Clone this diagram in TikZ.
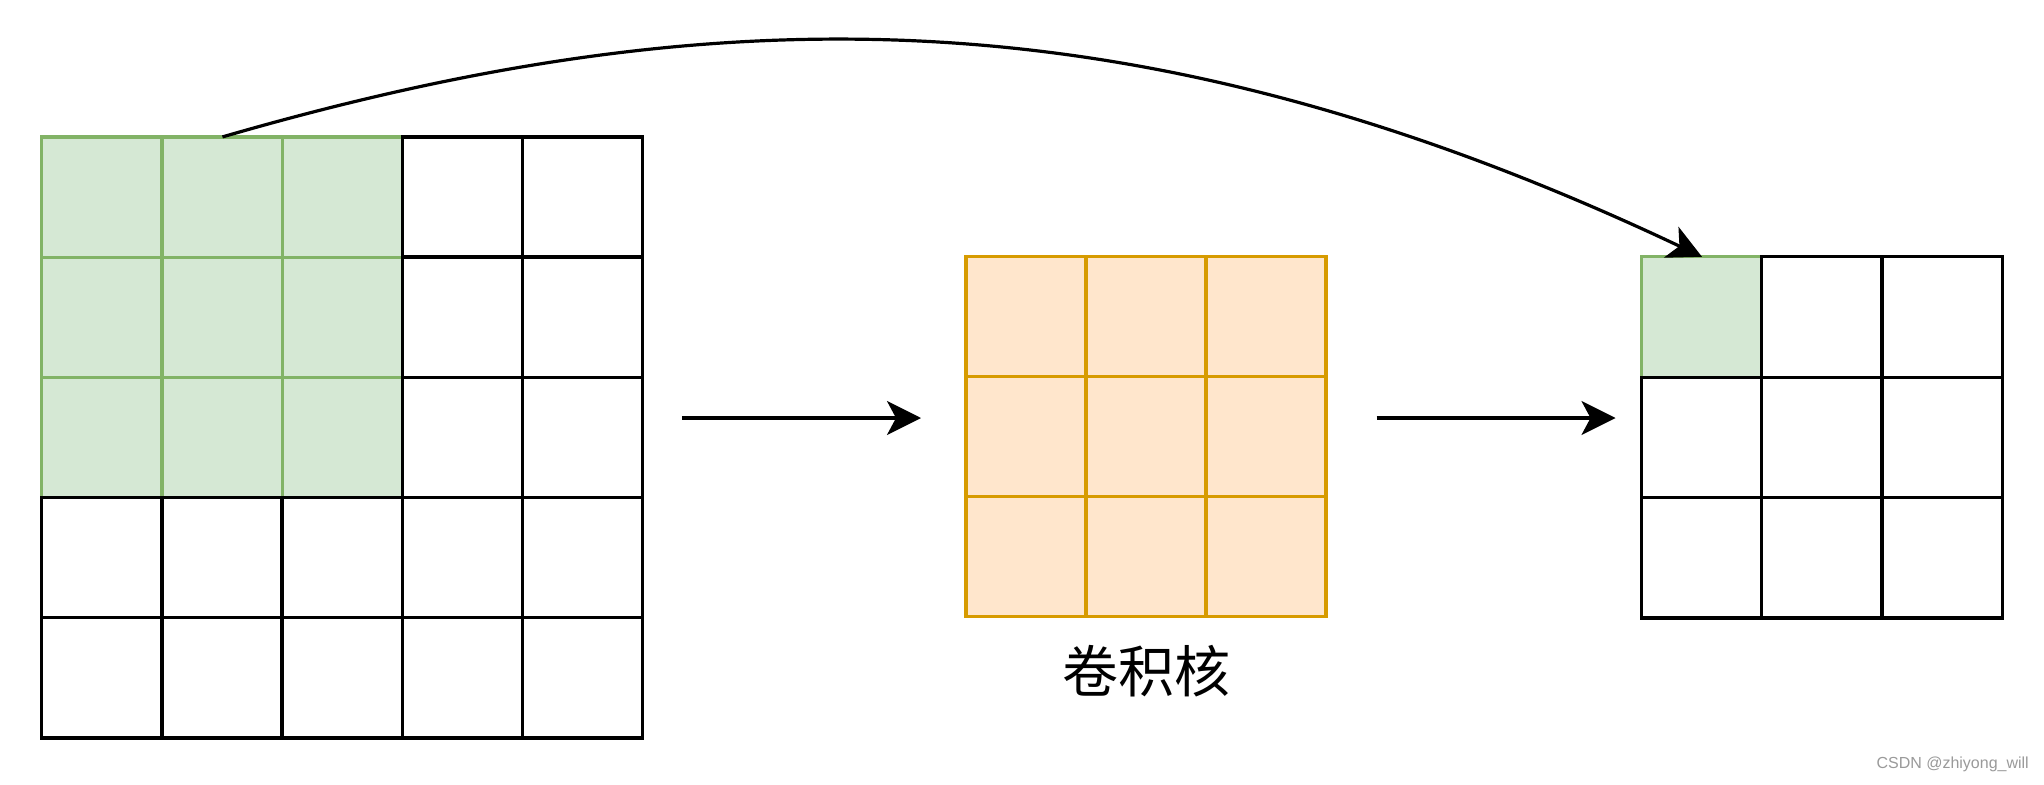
\documentclass[tikz,border=0pt]{standalone}
\usepackage{fontspec}
\setmainfont{Liberation Sans}
\newfontfamily\cjk{Noto Sans CJK SC}
\usetikzlibrary{arrows.meta}
\definecolor{gfill}{HTML}{D5E8D4}
\definecolor{gline}{HTML}{82B366}
\definecolor{ofill}{HTML}{FFE6CC}
\definecolor{oline}{HTML}{D79B00}
\definecolor{wm}{HTML}{9A9A9A}
\begin{document}
\begin{tikzpicture}[x=1pt,y=-1pt,
  gcell/.style={draw=gline,fill=gfill,line width=3.2pt},
  bcell/.style={draw=black,line width=3.3pt},
  ocell/.style={draw=oline,fill=ofill,line width=3.2pt},
  conn/.style={draw=black,line width=3.2pt,-{Stealth[length=34pt,width=34pt,inset=9pt]}}]
\useasboundingbox[fill=white] (0,0) rectangle (2044,784);
% input 5x5 grid
\foreach \i in {0,1,2} \foreach \j in {0,1,2}
  \draw[gcell] ({41.7+\i*120.2},{136.9+\j*120.2}) rectangle ++(120.2,120.2);
\foreach \i in {3,4} \foreach \j in {0,1,2}
  \draw[bcell] ({41.7+\i*120.2},{136.9+\j*120.2}) rectangle ++(120.2,120.2);
\foreach \i in {0,...,4} \foreach \j in {3,4}
  \draw[bcell] ({41.7+\i*120.2},{136.9+\j*120.2}) rectangle ++(120.2,120.2);
% kernel 3x3
\foreach \i in {0,1,2} \foreach \j in {0,1,2}
  \draw[ocell] ({966+\i*120},{256.8+\j*120}) rectangle ++(120,120);
\node[font=\cjk\fontsize{56}{60}\selectfont, inner sep=0] (lbl) at (1146,671) {卷积核};
% output 3x3
\draw[gcell] (1641.2,256.8) rectangle ++(120.4,120.4);
\foreach \i in {1,2} \foreach \j in {0}
  \draw[bcell] ({1641.2+\i*120.4},{256.8+\j*120.4}) rectangle ++(120.4,120.4);
\foreach \i in {0,1,2} \foreach \j in {1,2}
  \draw[bcell] ({1641.2+\i*120.4},{256.8+\j*120.4}) rectangle ++(120.4,120.4);
% connectors
\coordinate (a1s) at (681.8,418);
\coordinate (a1e) at (921,418);
\coordinate (a2s) at (1376.6,418);
\coordinate (a2e) at (1615.5,418);
\coordinate (cs) at (222.5,136.9);
\coordinate (ce) at (1702,256.8);
\draw[conn] (a1s) -- (a1e);
\draw[conn] (a2s) -- (a2e);
\draw[conn] (cs) .. controls (722,-8) and (1142,-8) .. (ce);
% watermark
\node[anchor=base east, font=\fontsize{16}{18}\selectfont, text=wm, inner sep=0] (wmk) at (2029,768) {CSDN @zhiyong\_will};
\end{tikzpicture}
\end{document}
